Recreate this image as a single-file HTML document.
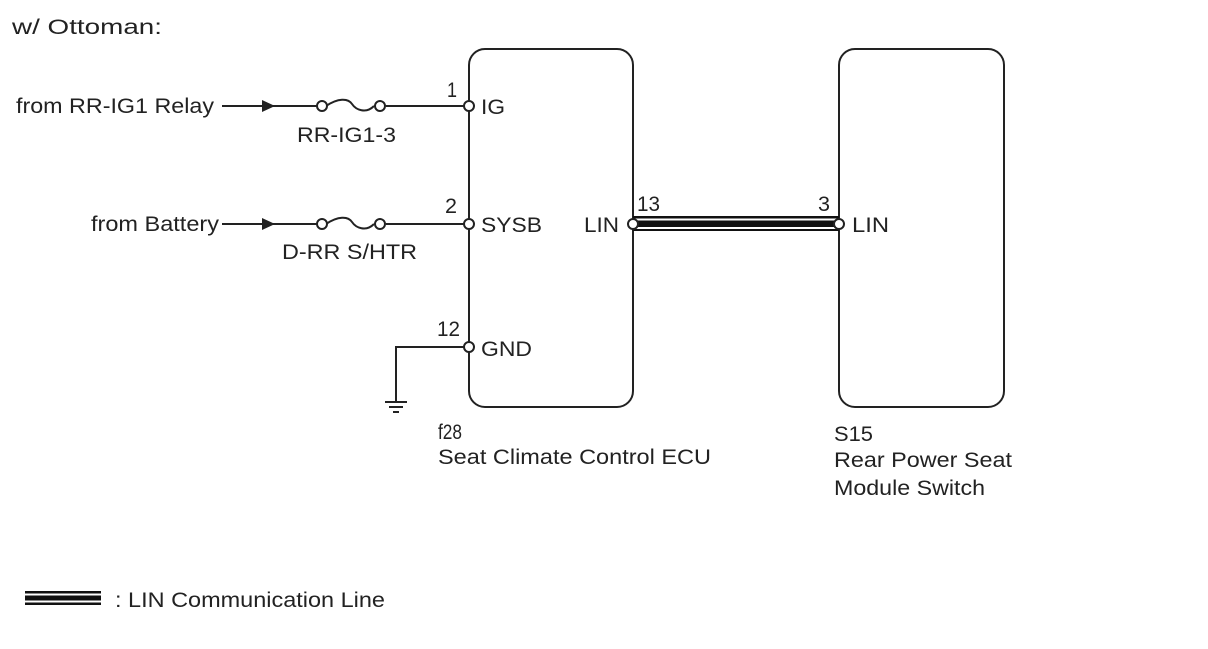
<!DOCTYPE html>
<html><head><style>
body{margin:0;background:#fff;}
svg text{font-family:"Liberation Sans",Arial,sans-serif;font-size:21px;fill:#222;}
</style></head><body>
<svg width="1208" height="644" viewBox="0 0 1208 644" xmlns="http://www.w3.org/2000/svg">
<text x="12" y="34" font-size="22" textLength="150" lengthAdjust="spacingAndGlyphs">w/ Ottoman:</text>
<g fill="none" stroke="#222" stroke-width="2">
<rect x="469" y="49" width="164" height="358" rx="16"/>
<rect x="839" y="49" width="165" height="358" rx="16"/>
<line x1="222" y1="106" x2="318" y2="106"/>
<line x1="386" y1="106" x2="465" y2="106"/>
<path d="M326 106 C338 98 348 98 352 104 S366 114 374 106"/>
<line x1="222" y1="224" x2="318" y2="224"/>
<line x1="386" y1="224" x2="465" y2="224"/>
<path d="M326 224 C338 216 348 216 352 222 S366 232 374 224"/>
<polyline points="465,347 396,347 396,402"/>
<line x1="385" y1="402" x2="407" y2="402"/>
<line x1="389" y1="407" x2="403" y2="407"/>
<line x1="393" y1="412" x2="399" y2="412"/>
</g>
<polygon points="262,100 275,106 262,112" fill="#222"/>
<polygon points="262,218 275,224 262,230" fill="#222"/>
<g fill="#fff" stroke="#222" stroke-width="2">
<circle cx="322" cy="106" r="5"/><circle cx="380" cy="106" r="5"/>
<circle cx="322" cy="224" r="5"/><circle cx="380" cy="224" r="5"/>
</g>
<rect x="633" y="216" width="206" height="15" fill="#111"/>
<rect x="633" y="218.5" width="206" height="2" fill="#fff"/>
<rect x="633" y="227" width="206" height="2" fill="#fff"/>
<g fill="#fff" stroke="#222" stroke-width="2">
<circle cx="469" cy="106" r="5"/><circle cx="469" cy="224" r="5"/><circle cx="469" cy="347" r="5"/>
<circle cx="633" cy="224" r="5"/><circle cx="839" cy="224" r="5"/>
</g>
<g lengthAdjust="spacingAndGlyphs">
<text x="16" y="113" textLength="198" lengthAdjust="spacingAndGlyphs">from RR-IG1 Relay</text>
<text x="297" y="142" textLength="99" lengthAdjust="spacingAndGlyphs">RR-IG1-3</text>
<text x="91" y="231" textLength="128" lengthAdjust="spacingAndGlyphs">from Battery</text>
<text x="282" y="259" textLength="135" lengthAdjust="spacingAndGlyphs">D-RR S/HTR</text>
<text x="447" y="97" textLength="10" lengthAdjust="spacingAndGlyphs">1</text>
<text x="481" y="114" textLength="24" lengthAdjust="spacingAndGlyphs">IG</text>
<text x="445" y="213" textLength="12" lengthAdjust="spacingAndGlyphs">2</text>
<text x="481" y="232" textLength="61" lengthAdjust="spacingAndGlyphs">SYSB</text>
<text x="437" y="336" textLength="23" lengthAdjust="spacingAndGlyphs">12</text>
<text x="481" y="356" textLength="51" lengthAdjust="spacingAndGlyphs">GND</text>
<text x="584" y="232" textLength="35" lengthAdjust="spacingAndGlyphs">LIN</text>
<text x="637" y="211" textLength="23" lengthAdjust="spacingAndGlyphs">13</text>
<text x="818" y="211" textLength="12" lengthAdjust="spacingAndGlyphs">3</text>
<text x="852" y="232" textLength="37" lengthAdjust="spacingAndGlyphs">LIN</text>
<text x="438" y="439" textLength="24" lengthAdjust="spacingAndGlyphs">f28</text>
<text x="438" y="464" textLength="273" lengthAdjust="spacingAndGlyphs">Seat Climate Control ECU</text>
<text x="834" y="441" textLength="39" lengthAdjust="spacingAndGlyphs">S15</text>
<text x="834" y="467" textLength="178" lengthAdjust="spacingAndGlyphs">Rear Power Seat</text>
<text x="834" y="495" textLength="151" lengthAdjust="spacingAndGlyphs">Module Switch</text>
<text x="115" y="607" textLength="270" lengthAdjust="spacingAndGlyphs">: LIN Communication Line</text>
</g>
<rect x="25" y="591" width="76" height="14" fill="#111"/>
<rect x="25" y="593.5" width="76" height="2" fill="#fff"/>
<rect x="25" y="600.5" width="76" height="2" fill="#fff"/>
</svg>
</body></html>
